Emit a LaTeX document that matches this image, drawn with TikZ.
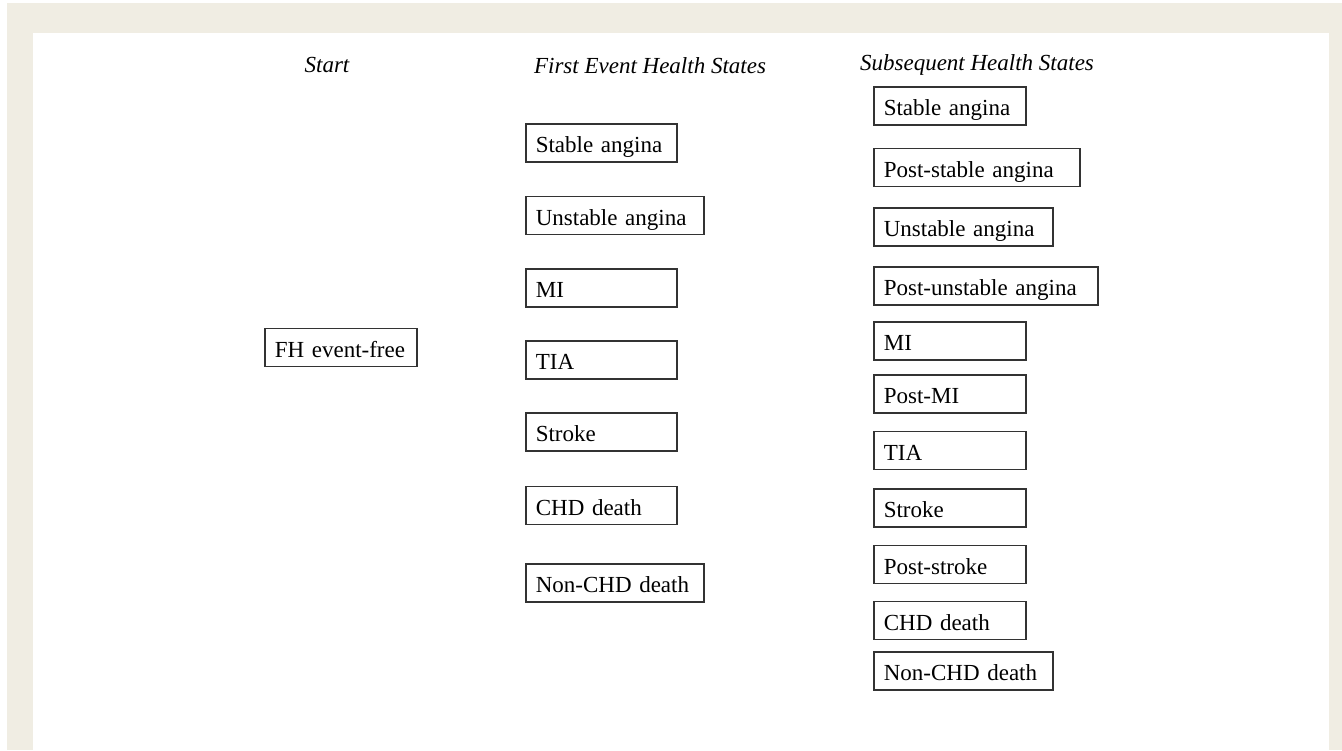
\documentclass[tikz,border=0pt]{standalone}
\usepackage{fontspec}
\setmainfont{Liberation Serif}
\usepackage{xcolor}
\usepackage{tikz}
\usetikzlibrary{positioning, calc}

\definecolor{frame}{RGB}{240,237,227}

\tikzset{
  statebox/.style={draw=black!80, line width=0.8pt, inner xsep=5pt, inner ysep=0pt,
    minimum height=19pt, text height=12pt, text depth=2.2pt,
    text width=#1, align=left, anchor=west,
    font=\fontsize{11.5}{13}\selectfont},
  colhead/.style={font=\fontsize{11.5}{13}\selectfont\itshape}
}

\begin{document}
\begin{tikzpicture}[x=0.5pt, y=-0.5pt]
      \def\colA{264}
      \def\colB{525}
      \def\colC{873}

      % frame and panel
      \fill[white] (0,0) rectangle (1342,750);
      \fill[frame] (7,3) rectangle (1342,750);
      \fill[white] (33,33) rectangle (1329,750);
      \useasboundingbox (0,0) rectangle (1342,750);

      \node[colhead] (hstart) at (327,65) {Start};
      \node[colhead] (hfirst) at (650,66) {First Event Health States};
      \node[colhead] (hsub) at (977,65) {Subsequent Health States};

      \node[statebox=66pt] (fhfree) at (\colA,347.5) {FH event-free};

      \node[statebox=65.5pt] (fsa) at (\colB,143) {Stable angina};
      \node[statebox=79pt] (fua) at (\colB,215.5) {Unstable angina};
      \node[statebox=65.5pt] (fmi) at (\colB,288) {MI};
      \node[statebox=65.5pt] (ftia) at (\colB,360) {TIA};
      \node[statebox=65.5pt] (fstroke) at (\colB,432) {Stroke};
      \node[statebox=65.5pt] (fchd) at (\colB,505.5) {CHD death};
      \node[statebox=79pt] (fnonchd) at (\colB,583) {Non-CHD death};

      \node[statebox=66pt] (ssa) at (\colC,106) {Stable angina};
      \node[statebox=93pt] (spsa) at (\colC,167.5) {Post-stable angina};
      \node[statebox=79.5pt] (sua) at (\colC,227) {Unstable angina};
      \node[statebox=102pt] (spua) at (\colC,286) {Post-unstable angina};
      \node[statebox=66pt] (smi) at (\colC,341) {MI};
      \node[statebox=66pt] (spmi) at (\colC,394) {Post-MI};
      \node[statebox=66pt] (stia) at (\colC,450.5) {TIA};
      \node[statebox=66pt] (sstroke) at (\colC,508) {Stroke};
      \node[statebox=66pt] (spstroke) at (\colC,564.5) {Post-stroke};
      \node[statebox=66pt] (schd) at (\colC,620.5) {CHD death};
      \node[statebox=79.5pt] (snonchd) at (\colC,671) {Non-CHD death};
\end{tikzpicture}
\end{document}
